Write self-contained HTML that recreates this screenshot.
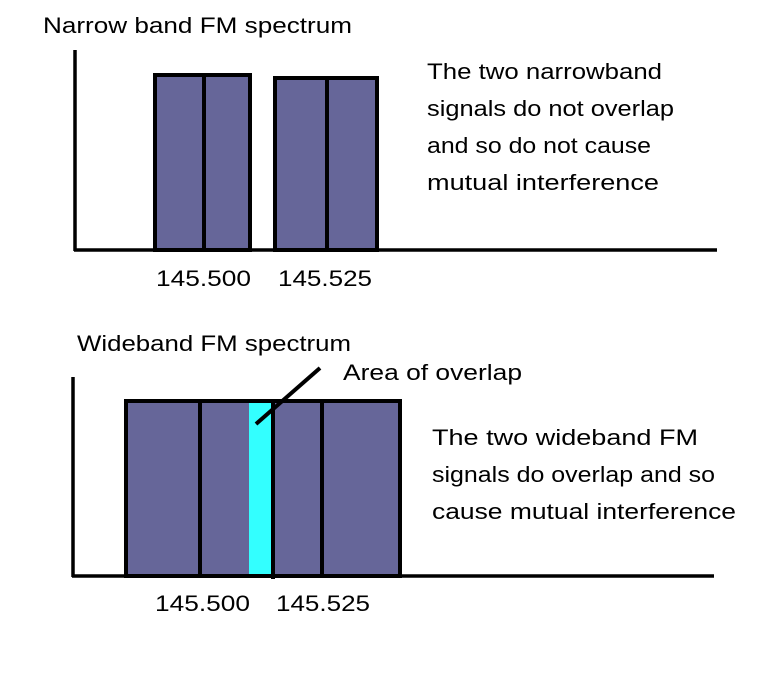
<!DOCTYPE html>
<html><head><meta charset="utf-8"><style>
html,body{margin:0;padding:0;background:#fff;}
svg{display:block;}
text{font-family:"Liberation Sans",sans-serif;font-size:22px;fill:#000;}
</style></head><body>
<svg width="763" height="694" viewBox="0 0 763 694" xmlns="http://www.w3.org/2000/svg">
<rect width="763" height="694" fill="#fff"/>
<!-- top chart -->
<text x="43" y="33" textLength="309" lengthAdjust="spacingAndGlyphs">Narrow band FM spectrum</text>
<g stroke="#000" stroke-width="4" fill="#666699">
<rect x="155" y="75" width="95" height="175"/>
<line x1="204" y1="75" x2="204" y2="250"/>
<rect x="275" y="78" width="102" height="172"/>
<line x1="327" y1="78" x2="327" y2="250"/>
</g>
<g stroke="#000" stroke-width="3.5">
<line x1="75" y1="50" x2="75" y2="251"/>
<line x1="74" y1="250" x2="717" y2="250"/>
</g>
<text x="156" y="286" textLength="95" lengthAdjust="spacingAndGlyphs">145.500</text>
<text x="278" y="286" textLength="94" lengthAdjust="spacingAndGlyphs">145.525</text>
<text x="427" y="79" textLength="235" lengthAdjust="spacingAndGlyphs">The two narrowband</text>
<text x="427" y="116" textLength="247" lengthAdjust="spacingAndGlyphs">signals do not overlap</text>
<text x="427" y="153" textLength="224" lengthAdjust="spacingAndGlyphs">and so do not cause</text>
<text x="427" y="190" textLength="232" lengthAdjust="spacingAndGlyphs">mutual interference</text>
<!-- bottom chart -->
<text x="77" y="351" textLength="274" lengthAdjust="spacingAndGlyphs">Wideband FM spectrum</text>
<text x="343" y="380" textLength="179" lengthAdjust="spacingAndGlyphs">Area of overlap</text>
<rect x="126" y="401" width="274" height="175" fill="#666699"/>
<rect x="249" y="402" width="24" height="174" fill="#33ffff"/>
<g stroke="#000" stroke-width="4" fill="none">
<rect x="126" y="401" width="274" height="175"/>
<line x1="200" y1="401" x2="200" y2="576"/>
<line x1="273" y1="401" x2="273" y2="579"/>
<line x1="322" y1="401" x2="322" y2="576"/>
<line x1="320" y1="368" x2="256" y2="424"/>
</g>
<g stroke="#000" stroke-width="3.5">
<line x1="73" y1="377" x2="73" y2="577"/>
<line x1="72" y1="576" x2="714" y2="576"/>
</g>
<text x="155" y="611" textLength="95" lengthAdjust="spacingAndGlyphs">145.500</text>
<text x="276" y="611" textLength="94" lengthAdjust="spacingAndGlyphs">145.525</text>
<text x="432" y="445" textLength="266" lengthAdjust="spacingAndGlyphs">The two wideband FM</text>
<text x="432" y="482" textLength="283" lengthAdjust="spacingAndGlyphs">signals do overlap and so</text>
<text x="432" y="519" textLength="304" lengthAdjust="spacingAndGlyphs">cause mutual interference</text>
</svg>
</body></html>
